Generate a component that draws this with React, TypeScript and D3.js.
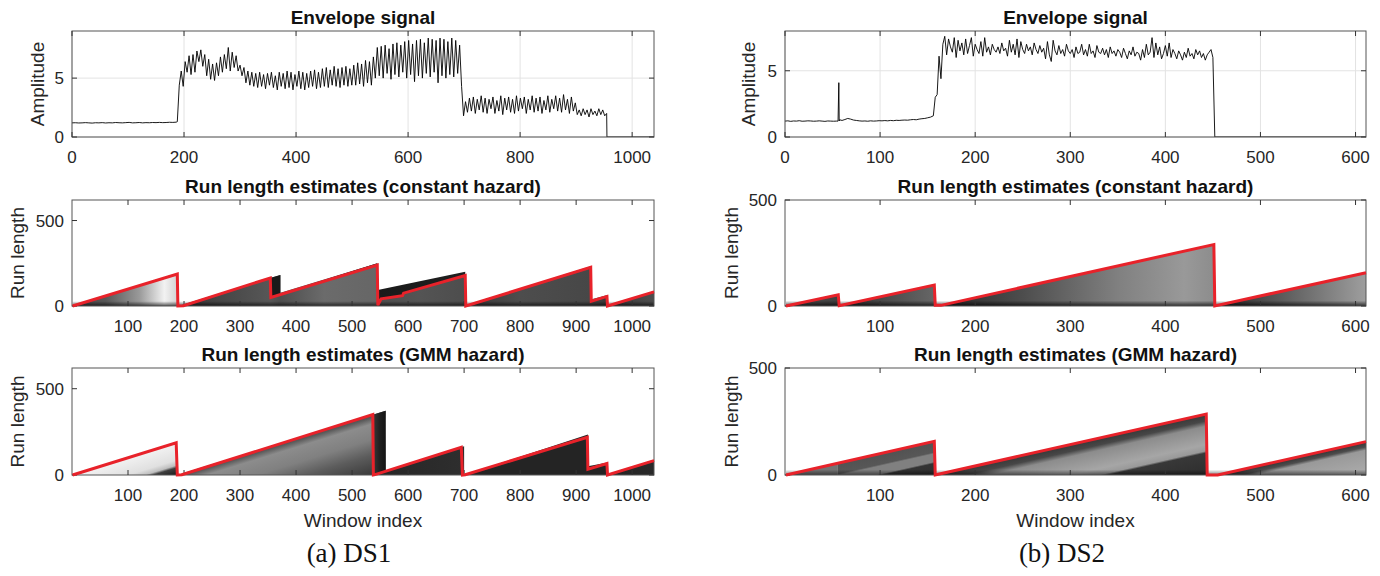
import React from 'react';
import * as d3 from 'd3';

// ---------------- data ----------------
// DS1 envelope signal
const ds1QuietStep = 6;
const ds1Quiet = [1.2,1.21,1.19,1.2,1.22,1.2,1.18,1.21,1.2,1.22,1.19,1.21,1.2,1.23,1.21,1.2,1.22,1.24,1.2,1.21,1.23,1.2,1.22,1.21,1.23,1.22,1.24,1.22,1.23,1.25,1.24,1.26];
const ds1ActiveStart = 188;
const ds1ActiveStep = 3.5;
const ds1Active = [
  1.3,4.4,5.6,4.3,6.4,5.5,6.9,5.3,7.0,5.5,7.3,6.4,7.4,6.0,7.0,5.2,6.6,4.9,6.2,4.8,
  6.3,5.2,6.8,5.5,7.0,5.8,7.6,5.6,7.2,5.9,6.9,5.6,6.1,5.2,5.9,4.6,5.6,4.4,
  5.5,4.3,5.4,4.2,5.5,4.3,5.3,4.1,5.4,4.4,5.5,4.2,5.2,4.0,5.5,4.3,5.4,4.1,5.6,4.2,
  5.5,4.0,5.3,4.3,5.6,4.1,5.5,4.0,5.4,4.2,5.6,4.3,5.7,4.1,5.5,4.2,5.8,4.3,5.9,4.2,
  5.7,4.4,6.0,4.3,5.8,4.2,5.9,4.4,6.0,4.3,5.8,4.4,
  6.1,4.4,6.3,4.5,6.2,4.3,6.5,4.6,6.4,4.4,6.8,
  5.0,7.6,5.2,7.7,5.0,7.8,5.4,7.5,4.9,7.9,5.3,8.0,5.1,7.8,5.5,8.1,5.0,8.2,5.3,7.9,
  4.7,8.2,5.2,8.3,5.0,8.0,5.4,8.4,5.1,8.3,5.5,8.2,4.6,8.4,5.2,8.3,5.0,8.1,5.3,8.4,
  5.1,8.2,5.4,7.8,4.3,
  1.8,3.0,2.1,3.3,2.2,3.4,2.0,3.2,2.3,3.5,2.1,3.3,2.0,3.2,2.4,3.4,2.0,3.1,2.2,3.5,
  1.9,3.3,2.3,3.4,2.1,3.2,2.0,3.5,2.2,3.3,2.4,3.4,2.0,3.2,2.3,3.5,2.1,3.3,2.2,3.4,
  2.0,3.1,2.3,3.5,2.1,3.2,2.4,3.5,2.2,3.3,2.1,3.6,2.3,3.2,2.0,3.4,2.2,2.9,
  1.9,2.3,1.8,2.4,1.9,2.3,1.7,2.4,1.9,2.2,1.8,2.4,1.9,2.3,1.8,
  2.0
];
const ds1Off: [number, number][] = [[955, 0], [1040, 0]];

// DS2 envelope signal
const ds2QuietStep = 3;
const ds2Quiet = [
  1.2,1.22,1.18,1.21,1.2,1.23,1.19,1.2,1.22,1.21,
  1.19,1.2,1.22,1.2,1.18,1.21,1.2,1.19,1.2,1.21,
  1.25,1.32,1.4,1.35,1.28,1.25,1.22,1.2,1.21,1.19,
  1.22,1.2,1.21,1.23,1.22,1.24,1.22,1.25,1.23,1.26,
  1.25,1.27,1.28,1.27,1.3,1.32,1.3,1.35,1.38,1.4,
  1.45,1.5
];
const ds2Spike: [number, number][] = [[55.8, 1.2], [56.6, 4.1], [57.4, 1.3]];
const ds2ActiveStart = 156;
const ds2ActiveStep = 2;
const ds2Active = [
  1.6,3.0,3.2,6.1,4.4,7.0,7.6,6.2,7.4,6.8,6.4,7.5,6.0,7.3,6.5,7.1,6.2,7.4,6.3,6.9,
  7.5,6.1,7.0,6.6,6.3,7.2,6.1,7.5,6.4,6.8,6.2,7.0,6.6,6.4,6.8,6.3,7.1,6.5,6.7,6.1,
  7.3,6.4,7.0,6.2,7.4,6.0,7.2,6.6,6.3,7.0,6.5,6.8,6.2,7.1,6.6,6.3,6.9,6.4,6.7,5.9,
  7.2,6.2,5.7,7.3,6.5,6.2,6.9,6.3,6.6,6.1,7.0,6.5,6.3,6.6,6.0,6.8,6.3,6.4,7.0,6.2,
  6.6,6.1,7.0,6.3,6.5,6.0,6.9,6.4,6.3,6.7,6.2,6.6,6.0,6.8,6.3,6.5,6.1,6.6,6.4,6.0,
  6.7,6.3,5.9,6.5,6.2,6.8,6.1,6.4,6.3,5.8,6.6,6.0,7.0,6.2,6.4,7.5,6.0,7.1,6.2,6.8,
  5.9,6.3,6.9,6.1,7.1,6.0,6.6,6.3,5.9,6.5,6.2,5.8,6.4,6.0,6.7,6.1,6.3,5.9,6.6,6.2,
  6.5,6.0,6.3,5.8,6.2,6.4,6.6,6.0
];
const ds2Off: [number, number][] = [[452, 0], [611, 0]];

// tick values
const ds1EnvTicks = [0, 200, 400, 600, 800, 1000];
const ds2EnvTicks = [0, 100, 200, 300, 400, 500, 600];
const ampTicks = [0, 5];
const ds1RunTicks = [100, 200, 300, 400, 500, 600, 700, 800, 900, 1000];
const ds2RunTicks = [100, 200, 300, 400, 500, 600];
const runTicks = [0, 500];

// MAP run length (red) [window index, run length]
const ds1ConstMap: [number, number][] = [[1,0],[188,187],[189,0],[199,2],[354,164],[355,50],[545,240],[546,5],[552,42],[590,60],[592,75],[702,178],[703,0],[926,226],[927,28],[955,56],[956,0],[1039,83]];
const ds1GmmMap: [number, number][] = [[1,0],[186,187],[188,0],[196,2],[537,350],[538,0],[541,2],[695,160],[697,0],[702,2],[920,218],[921,33],[955,66],[956,0],[1039,83]];
const ds2ConstMap: [number, number][] = [[1,0],[56,53],[57,1],[157,99],[158,3],[164,3],[451,290],[452,0],[611,157]];
const ds2GmmMap: [number, number][] = [[1,0],[157,157],[158,0],[160,2],[443,285],[444,0],[455,0],[611,156]];

// posterior shading: polygon [t, r], gradient axis, stops [key, intensity, opacity]
type Stop = [number, number, number?];
type Patch = { pts: [number, number][]; axis: 't' | 'r' | 'c'; stops: Stop[] };

const ds1ConstPost: Patch[] = [
  { pts: [[1,0],[188,187],[189,0]], axis: 't', stops: [[1,0.28],[60,0.34],[120,0.6],[165,0.95],[189,0.82]] },
  { pts: [[190,0],[372,182],[372,77],[545,250],[545,0]], axis: 't', stops: [[190,0.2],[260,0.27],[354,0.34],[372,0.3],[450,0.42],[545,0.4]] },
  { pts: [[355,165],[372,182],[372,72],[355,55]], axis: 't', stops: [[355,0.1],[372,0.1]] },
  { pts: [[372,72],[545,250],[545,238],[372,62]], axis: 't', stops: [[372,0.15],[545,0.15]] },
  { pts: [[546,0],[548,95],[702,200],[702,0]], axis: 't', stops: [[546,0.1],[702,0.12]] },
  { pts: [[546,0],[546,5],[552,42],[590,60],[592,75],[702,178],[702,0]], axis: 't', stops: [[546,0.3],[620,0.33],[702,0.3]] },
  { pts: [[703,0],[926,233],[926,38],[956,64],[956,0]], axis: 't', stops: [[703,0.22],[800,0.3],[926,0.28],[956,0.22]] },
  { pts: [[956,0],[1039,88],[1039,0]], axis: 't', stops: [[956,0.22],[1039,0.3]] },
  { pts: [[1,0],[1039,0],[1039,30],[1,30]], axis: 'r', stops: [[0,0,0.65],[28,0,0]] },
];
const ds1GmmPost: Patch[] = [
  { pts: [[1,0],[186,187],[188,0]], axis: 'c', stops: [[0,0.95],[100,0.88],[130,0.75],[145,0.25],[188,0.1]] },
  { pts: [[188,0],[560,372],[560,0]], axis: 'c', stops: [[188,0.3],[205,0.36],[240,0.55],[330,0.5],[420,0.36],[560,0.2]] },
  { pts: [[537,0],[537,349],[560,372],[560,0]], axis: 't', stops: [[537,0.22],[550,0.12],[560,0.08]] },
  { pts: [[538,0],[700,166],[700,0]], axis: 't', stops: [[538,0.15],[700,0.18]] },
  { pts: [[700,0],[921,234],[921,50],[956,72],[956,0]], axis: 't', stops: [[700,0.14],[956,0.14]] },
  { pts: [[956,0],[1039,88],[1039,0]], axis: 't', stops: [[956,0.14],[1039,0.16]] },
];
const ds2ConstPost: Patch[] = [
  { pts: [[1,0],[56,55],[57,0]], axis: 't', stops: [[1,0.3],[57,0.25]] },
  { pts: [[57,0],[157,100],[157,0]], axis: 't', stops: [[57,0.18],[100,0.28],[157,0.4]] },
  { pts: [[158,0],[158,3],[164,3],[451,290],[452,0]], axis: 't', stops: [[158,0.15],[250,0.3],[350,0.5],[420,0.6],[452,0.55]] },
  { pts: [[452,0],[611,159],[611,0]], axis: 't', stops: [[452,0.15],[520,0.35],[611,0.62]] },
  { pts: [[1,0],[611,0],[611,30],[1,30]], axis: 'r', stops: [[0,0,0.7],[25,0,0]] },
];
const ds2GmmPost: Patch[] = [
  { pts: [[1,0],[55,55],[55,0]], axis: 't', stops: [[1,0.45],[55,0.45]] },
  { pts: [[55,0],[55,55],[157,157],[157,0]], axis: 'c', stops: [[0,0.32],[50,0.34],[58,0.5],[95,0.5],[103,0.2],[157,0.18]] },
  { pts: [[158,0],[443,285],[443,0]], axis: 'c', stops: [[158,0.22],[190,0.28],[215,0.55],[300,0.65],[330,0.6],[340,0.22],[443,0.18]] },
  { pts: [[455,0],[611,156],[611,0]], axis: 'c', stops: [[455,0.2],[480,0.3],[495,0.6],[611,0.68]] },
  { pts: [[1,0],[611,0],[611,30],[1,30]], axis: 'r', stops: [[0,0,0.5],[25,0,0]] },
];

// ---------------- drawing ----------------
const FONT = "'Liberation Sans', Arial, Helvetica, sans-serif";
const TXT = '#262626';
const RED = '#e8222a';
const gray = d3.scaleLinear<string>().domain([0, 1]).range(['#000000', '#ffffff']);

type Scale = d3.ScaleLinear<number, number>;

function buildSeries(quiet: number[], qStep: number, extra: [number, number][], active: number[], aStart: number, aStep: number, off: [number, number][]) {
  const pts: [number, number][] = [
    ...quiet.map((v, i) => [i * qStep, v] as [number, number]),
    ...extra,
    ...active.map((v, i) => [aStart + i * aStep, v] as [number, number]),
    ...off,
  ];
  return pts.sort((a, b) => a[0] - b[0]);
}

const ds1Series = buildSeries(ds1Quiet, ds1QuietStep, [], ds1Active, ds1ActiveStart, ds1ActiveStep, ds1Off);
const ds2Series = buildSeries(ds2Quiet, ds2QuietStep, ds2Spike, ds2Active, ds2ActiveStart, ds2ActiveStep, ds2Off);

function gradCoords(p: Patch, xs: Scale, ys: Scale) {
  const k0 = p.stops[0][0];
  let k1 = p.stops[p.stops.length - 1][0];
  if (k1 === k0) k1 = k0 + 1;
  if (p.axis === 't') return { x1: xs(k0), y1: 0, x2: xs(k1), y2: 0, k0, k1 };
  if (p.axis === 'r') return { x1: 0, y1: ys(k0), x2: 0, y2: ys(k1), k0, k1 };
  const sx = xs(1) - xs(0);
  const sy = ys(0) - ys(1);
  const n = Math.hypot(sx, sy);
  const nx = sy / n, ny = sx / n;
  const d = (xs(k1) - xs(k0)) * nx;
  const x1 = xs(k0), y1 = ys(0);
  return { x1, y1, x2: x1 + nx * d, y2: y1 + ny * d, k0, k1 };
}

interface AxesProps {
  id: string;
  L: number; T: number; R: number; B: number;
  xDomain: [number, number]; yDomain: [number, number];
  xTicks: number[]; yTicks: number[];
  grid?: boolean;
  title: string; ylabel: string; ylabelX: number; xlabel?: string;
  series?: [number, number][];
  patches?: Patch[];
  map?: [number, number][];
}

function Axes(p: AxesProps) {
  const xs = d3.scaleLinear().domain(p.xDomain).range([p.L, p.R]);
  const ys = d3.scaleLinear().domain(p.yDomain).range([p.B, p.T]);
  const line = d3.line<[number, number]>().x(d => xs(d[0])).y(d => ys(d[1]));
  const TL = 5;
  const cx = (p.L + p.R) / 2;
  return (
    <g>
      <defs>
        <clipPath id={`clip-${p.id}`}>
          <rect x={p.L} y={p.T} width={p.R - p.L} height={p.B - p.T} />
        </clipPath>
        {(p.patches || []).map((pa, i) => {
          const g = gradCoords(pa, xs, ys);
          return (
            <linearGradient key={i} id={`g-${p.id}-${i}`} gradientUnits="userSpaceOnUse" x1={g.x1} y1={g.y1} x2={g.x2} y2={g.y2}>
              {pa.stops.map((s, j) => (
                <stop key={j} offset={Math.max(0, Math.min(1, (s[0] - g.k0) / (g.k1 - g.k0)))} stopColor={gray(s[1])} stopOpacity={s[2] === undefined ? 1 : s[2]} />
              ))}
            </linearGradient>
          );
        })}
      </defs>
      <rect x={p.L} y={p.T} width={p.R - p.L} height={p.B - p.T} fill="#ffffff" />
      {p.grid && (
        <g stroke="#e3e3e3" strokeWidth={1}>
          {p.xTicks.map(t => <line key={`gx${t}`} x1={xs(t)} x2={xs(t)} y1={p.T} y2={p.B} />)}
          {p.yTicks.map(t => <line key={`gy${t}`} x1={p.L} x2={p.R} y1={ys(t)} y2={ys(t)} />)}
        </g>
      )}
      <g clipPath={`url(#clip-${p.id})`}>
        {(p.patches || []).map((pa, i) => (
          <path key={i} d={(line(pa.pts) || '') + 'Z'} fill={`url(#g-${p.id}-${i})`} />
        ))}
        {p.series && <path d={line(p.series) || ''} fill="none" stroke="#000" strokeWidth={0.9} />}
      </g>
      <rect x={p.L} y={p.T} width={p.R - p.L} height={p.B - p.T} fill="none" stroke="#555" strokeWidth={1} />
      <g stroke="#333" strokeWidth={1}>
        {p.xTicks.map(t => (
          <g key={`tx${t}`}>
            <line x1={xs(t)} x2={xs(t)} y1={p.B} y2={p.B - TL} />
            <line x1={xs(t)} x2={xs(t)} y1={p.T} y2={p.T + TL} />
          </g>
        ))}
        {p.yTicks.map(t => (
          <g key={`ty${t}`}>
            <line x1={p.L} x2={p.L + TL} y1={ys(t)} y2={ys(t)} />
            <line x1={p.R} x2={p.R - TL} y1={ys(t)} y2={ys(t)} />
          </g>
        ))}
      </g>
      {p.map && <path d={line(p.map) || ''} fill="none" stroke={RED} strokeWidth={3} strokeLinejoin="miter" strokeMiterlimit={4} />}
      <g fontFamily={FONT} fontSize={17} fill={TXT}>
        {p.xTicks.map(t => (
          <text key={`lx${t}`} x={xs(t)} y={p.B + 26} textAnchor="middle">{t}</text>
        ))}
        {p.yTicks.map(t => (
          <text key={`ly${t}`} x={p.L - 8} y={ys(t) + 6} textAnchor="end">{t}</text>
        ))}
      </g>
      <text x={cx} y={p.T - 7} textAnchor="middle" fontFamily={FONT} fontSize={19} fontWeight="bold" fill="#111">{p.title}</text>
      <text transform={`translate(${p.ylabelX},${(p.T + p.B) / 2}) rotate(-90)`} textAnchor="middle" dominantBaseline="central" fontFamily={FONT} fontSize={19} fill={TXT}>{p.ylabel}</text>
      {p.xlabel && <text x={cx} y={p.B + 52} textAnchor="middle" fontFamily={FONT} fontSize={19} fill={TXT}>{p.xlabel}</text>}
    </g>
  );
}

export default function App() {
  const LA = 72, RA = 654, LB = 785, RB = 1366;
  const rows = [[31, 137], [200, 306], [368, 475]];
  return (
    <svg width={1380} height={576} viewBox="0 0 1380 576" style={{ position: 'absolute', left: 0, top: 0, background: '#fff' }}>
      <rect x={0} y={0} width={1380} height={576} fill="#fff" />
      {/* DS1 */}
      <Axes id="a1" L={LA} R={RA} T={rows[0][0]} B={rows[0][1]} xDomain={[0, 1039]} yDomain={[0, 9]} xTicks={ds1EnvTicks} yTicks={ampTicks} grid title="Envelope signal" ylabel="Amplitude" ylabelX={37} series={ds1Series} />
      <Axes id="a2" L={LA} R={RA} T={rows[1][0]} B={rows[1][1]} xDomain={[0, 1039]} yDomain={[0, 620]} xTicks={ds1RunTicks} yTicks={runTicks} title="Run length estimates (constant hazard)" ylabel="Run length" ylabelX={17} patches={ds1ConstPost} map={ds1ConstMap} />
      <Axes id="a3" L={LA} R={RA} T={rows[2][0]} B={rows[2][1]} xDomain={[0, 1039]} yDomain={[0, 620]} xTicks={ds1RunTicks} yTicks={runTicks} title="Run length estimates (GMM hazard)" ylabel="Run length" ylabelX={17} xlabel="Window index" patches={ds1GmmPost} map={ds1GmmMap} />
      {/* DS2 */}
      <Axes id="b1" L={LB} R={RB} T={rows[0][0]} B={rows[0][1]} xDomain={[0, 611]} yDomain={[0, 8]} xTicks={ds2EnvTicks} yTicks={ampTicks} grid title="Envelope signal" ylabel="Amplitude" ylabelX={748} series={ds2Series} />
      <Axes id="b2" L={LB} R={RB} T={rows[1][0]} B={rows[1][1]} xDomain={[0, 611]} yDomain={[0, 500]} xTicks={ds2RunTicks} yTicks={runTicks} title="Run length estimates (constant hazard)" ylabel="Run length" ylabelX={731} patches={ds2ConstPost} map={ds2ConstMap} />
      <Axes id="b3" L={LB} R={RB} T={rows[2][0]} B={rows[2][1]} xDomain={[0, 611]} yDomain={[0, 500]} xTicks={ds2RunTicks} yTicks={runTicks} title="Run length estimates (GMM hazard)" ylabel="Run length" ylabelX={731} xlabel="Window index" patches={ds2GmmPost} map={ds2GmmMap} />
      <text x={349} y={562} textAnchor="middle" fontFamily="'Liberation Serif', 'Times New Roman', serif" fontSize={27} fill="#111">(a) DS1</text>
      <text x={1062} y={562} textAnchor="middle" fontFamily="'Liberation Serif', 'Times New Roman', serif" fontSize={27} fill="#111">(b) DS2</text>
    </svg>
  );
}
